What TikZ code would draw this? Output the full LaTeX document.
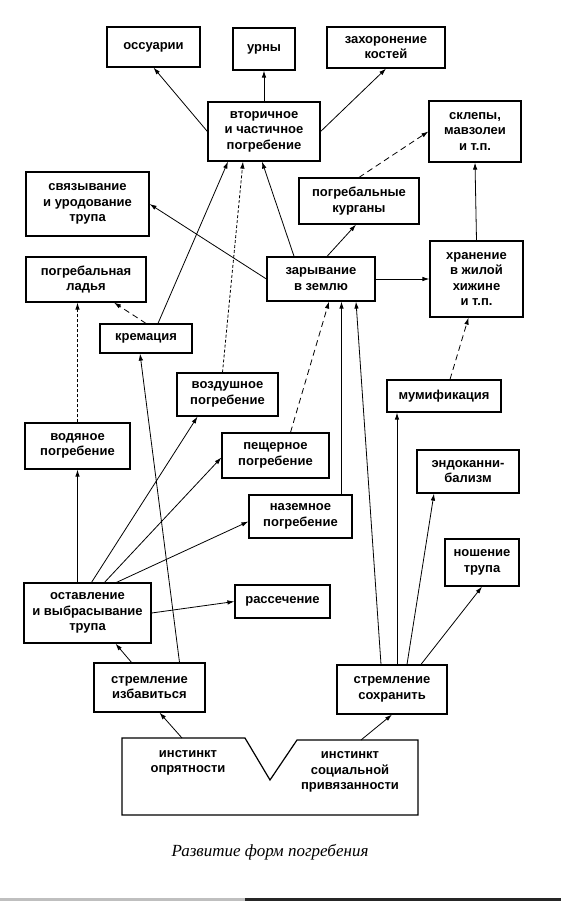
\documentclass[tikz,border=0pt]{standalone}
\usepackage{fontspec}
\setmainfont{Liberation Sans}
\newfontfamily\capfont{Liberation Serif}
\usetikzlibrary{arrows.meta}

\begin{document}
\begin{tikzpicture}[
    x=1pt, y=-1pt,
    mybox/.style={draw, line width=1.2pt, align=center, inner sep=0pt, font=\fontsize{13}{15.5}\selectfont\bfseries},
    mytext/.style={align=center, inner sep=0pt, font=\fontsize{13}{15.5}\selectfont\bfseries},
    myedge/.style={-{Latex[length=7pt,width=4.5pt]}, line width=0.8pt},
    mydash/.style={myedge, dash pattern=on 6pt off 4pt},
    mydots/.style={myedge, dash pattern=on 3pt off 2pt}
]
\useasboundingbox (0,0) rectangle (561,901);

% top row
\node[mybox, minimum width=93pt, minimum height=40pt] (oss) at (153.5,47) {оссуарии};
\node[mybox, minimum width=62pt, minimum height=42pt] (urn) at (264,49) {урны};
\node[mybox, minimum width=118pt, minimum height=41pt] (bones) at (386,47.5) {захоронение\\костей};
\node[mybox, minimum width=112pt, minimum height=59pt] (second) at (264,131.5) {вторичное\\и частичное\\погребение};
\node[mybox, minimum width=92pt, minimum height=61pt] (crypt) at (475,131.5) {склепы,\\мавзолеи\\и т.п.};
\node[mybox, minimum width=123pt, minimum height=64pt] (bind) at (87.5,204) {связывание\\и уродование\\трупа};
\node[mybox, minimum width=120pt, minimum height=46pt] (mound) at (359,201) {погребальные\\курганы};
\node[mybox, minimum width=93pt, minimum height=76pt] (store) at (476.5,279) {хранение\\в жилой\\хижине\\и т.п.};
\node[mybox, minimum width=120pt, minimum height=45pt] (boat) at (86,279.5) {погребальная\\ладья};
\node[mybox, minimum width=108pt, minimum height=44pt] (earth) at (321,279) {зарывание\\в землю};

% middle
\node[mybox, minimum width=92pt, minimum height=29pt] (crem) at (146,338.5) {кремация};
\node[mybox, minimum width=101pt, minimum height=43pt] (air) at (227.5,394.5) {воздушное\\погребение};
\node[mybox, minimum width=114pt, minimum height=32pt] (mummy) at (444,396) {мумификация};
\node[mybox, minimum width=107pt, minimum height=45pt] (cave) at (275.5,455.5) {пещерное\\погребение};
\node[mybox, minimum width=105pt, minimum height=46pt] (water) at (77.5,446) {водяное\\погребение};
\node[mybox, minimum width=102pt, minimum height=43pt] (endo) at (468,471.5) {эндоканни-\\бализм};
\node[mybox, minimum width=103pt, minimum height=43pt] (ground) at (300.5,516.5) {наземное\\погребение};
\node[mybox, minimum width=74pt, minimum height=47pt] (carry) at (482,562.5) {ношение\\трупа};
\node[mybox, minimum width=127pt, minimum height=60pt] (leave) at (87.5,613) {оставление\\и выбрасывание\\трупа};
\node[mybox, minimum width=95pt, minimum height=33pt] (dissect) at (282.5,601.5) {рассечение};

% bottom
\node[mybox, minimum width=111pt, minimum height=49pt] (rid) at (149.5,687.5) {стремление\\избавиться};
\node[mybox, minimum width=110pt, minimum height=49pt] (keep) at (392,689.5) {стремление\\сохранить};

\coordinate (iA) at (122,738);
\coordinate (iB) at (245,738);
\coordinate (iV) at (270,780);
\coordinate (iC) at (297,740);
\coordinate (iD) at (418,740);
\coordinate (iE) at (418,815);
\coordinate (iF) at (122,815);
\coordinate (iL) at (182,738);
\coordinate (iR) at (361,740);
\draw[line width=1.2pt] (iA) -- (iB) -- (iV) -- (iC) -- (iD) -- (iE) -- (iF) -- cycle;
\node[mytext] (clean) at (188,763) {инстинкт\\опрятности};
\node[mytext] (social) at (350,772) {инстинкт\\социальной\\привязанности};

\node[font=\capfont\itshape\fontsize{17}{20}\selectfont] (caption) at (270,852) {Развитие форм погребения};

% edges
\draw[myedge] (second.west) -- (oss.south);
\draw[myedge] (second.north) -- (urn.south);
\draw[myedge] (second.east) -- (bones.south);
\draw[mydash] (mound.north) -- (crypt.west);
\draw[myedge] (store.north) -- (crypt.south);
\draw[myedge] (earth.west) -- (bind.east);
\draw[myedge] (earth.140) -- ([xshift=-2pt]second.south);
\draw[myedge] ([xshift=12pt]crem.north) -- ([xshift=-36pt]second.south);
\draw[mydots] ([xshift=-5pt]air.north) -- ([xshift=-21pt]second.south);
\draw[myedge] ([xshift=6pt]earth.north) -- ([xshift=-3pt]mound.south);
\draw[myedge] (earth.east) -- (store.west);
\draw[mydash] ([xshift=6pt]mummy.north) -- ([xshift=-8pt]store.south);
\draw[mydots] (water.north) -- (water.north |- boat.south);
\draw[mydash] (crem.north) -- ([xshift=28pt]boat.south);
\draw[myedge] (water.south |- leave.north) -- (water.south);
\draw[myedge] ([xshift=4pt]leave.north) -- ([xshift=-30pt]air.south);
\draw[myedge] ([xshift=17pt]leave.north) -- ([yshift=-2pt]cave.west);
\draw[myedge] ([xshift=29pt]leave.north) -- ([yshift=-5pt]ground.west);
\draw[myedge] (leave.east) -- (dissect.west);
\draw[myedge] ([xshift=-18pt]rid.north) -- ([xshift=28pt]leave.south);
\draw[myedge] ([xshift=30pt]rid.north) -- ([xshift=-6pt]crem.south);
\draw[myedge] ([xshift=41pt]ground.north) -- ([xshift=41pt]ground.north |- earth.south);
\draw[mydash] ([xshift=15pt]cave.north) -- ([xshift=8pt]earth.south);
\draw[myedge] ([xshift=-11pt]keep.north) -- ([xshift=35pt]earth.south);
\draw[myedge] ([xshift=5pt]keep.north) -- ([xshift=5pt]keep.north |- mummy.south);
\draw[myedge] ([xshift=15pt]keep.north) -- ([xshift=-34pt]endo.south);
\draw[myedge] ([xshift=29pt]keep.north) -- (carry.south);
\draw[myedge] (iL) -- ([xshift=10pt]rid.south);
\draw[myedge] (iR) -- (keep.south);

% scan edge
\fill[black!25] (0,898) rectangle (245,901);
\fill[black!85] (245,898) rectangle (561,901);
\end{tikzpicture}
\end{document}
